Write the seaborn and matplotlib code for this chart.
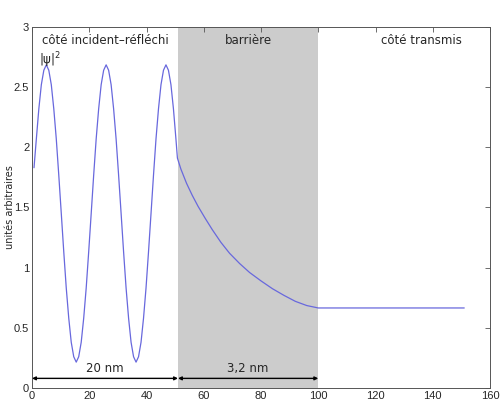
import numpy as np
import pandas as pd
import matplotlib
matplotlib.use("Agg")
import matplotlib.pyplot as plt
import seaborn as sns

# positions (x, unités de la figure) et |psi|^2
x_incident = [0.70, 1.52, 2.39, 3.26, 4.13, 5.00, 5.87, 6.74, 7.61, 8.48, 9.35,
              10.23, 11.10, 11.97, 12.84, 13.71, 14.58, 15.45, 16.32, 17.19, 18.06,
              18.93, 19.80, 20.68, 21.55, 22.42, 23.29, 24.16, 25.03, 25.90, 26.77,
              27.64, 28.51, 29.38, 30.25, 31.13, 32.00, 32.87, 33.74, 34.61, 35.48,
              36.35, 37.22, 38.09, 38.96, 39.83, 40.70, 41.58, 42.45, 43.32, 44.19,
              45.06, 45.93, 46.80, 47.67, 48.54, 49.41, 50.28]
y_incident = [1.83, 2.07, 2.32, 2.52, 2.64, 2.685, 2.64, 2.52, 2.32, 2.07, 1.77,
              1.45, 1.13, 0.83, 0.58, 0.38, 0.26, 0.215, 0.26, 0.38, 0.58,
              0.83, 1.13, 1.45, 1.77, 2.07, 2.32, 2.52, 2.64, 2.685, 2.64,
              2.52, 2.32, 2.07, 1.77, 1.45, 1.13, 0.83, 0.58, 0.38, 0.26,
              0.215, 0.26, 0.38, 0.58, 0.83, 1.13, 1.45, 1.77, 2.07, 2.32,
              2.52, 2.64, 2.685, 2.64, 2.52, 2.32, 2.07]
x_barriere = [50.8, 52.0, 54.0, 56.0, 58.0, 60.5, 63.0, 66.0, 69.0, 72.5, 76.0,
              80.0, 84.0, 88.0, 92.0, 96.0, 100.0]
y_barriere = [1.91, 1.82, 1.70, 1.60, 1.51, 1.41, 1.315, 1.21, 1.12, 1.035, 0.96,
              0.89, 0.825, 0.77, 0.72, 0.685, 0.665]
x_transmis = [100.0, 151.0]
y_transmis = [0.665, 0.665]

barriere = (51, 100)
zones = ["côté incident–réfléchi", "barrière", "côté transmis"]
largeurs = ["20 nm", "3,2 nm"]

df = pd.DataFrame({
    "x": x_incident + x_barriere + x_transmis,
    "psi2": y_incident + y_barriere + y_transmis,
})

sns.set_style("white")
plt.rcParams["font.family"] = ["DejaVu Sans"]
plt.rcParams["xtick.direction"] = "in"
plt.rcParams["ytick.direction"] = "in"

fig = plt.figure(figsize=(5, 4.08), dpi=100)
ax = fig.add_axes([0.064, 0.049, 0.916, 0.885])

ax.axvspan(barriere[0], barriere[1], color="#cccccc", lw=0, zorder=0)
sns.lineplot(data=df, x="x", y="psi2", ax=ax, sort=False, color="#6868dd",
             lw=0.9, zorder=3)

ax.set_xlim(0, 160)
ax.set_ylim(0, 3)
ax.set_xticks(np.arange(0, 161, 20))
ax.set_yticks([0, 0.5, 1, 1.5, 2, 2.5, 3])
ax.set_yticklabels(["0", "0.5", "1", "1.5", "2", "2.5", "3"])
ax.tick_params(top=True, right=True, length=3.5, width=0.6, color="#555555",
               labelsize=8, pad=2)
for lab in ax.get_xticklabels() + ax.get_yticklabels():
    lab.set_family("Liberation Sans")
for s in ax.spines.values():
    s.set_color("#555555")
    s.set_linewidth(0.7)
ax.set_xlabel("")
ax.set_ylabel("unités arbitraires", fontsize=7, va="center")
ax.yaxis.set_label_coords(-0.048, 0.5)

ax.text(25.5, 2.885, zones[0], ha="center", va="center", fontsize=8.5)
ax.text(75.5, 2.885, zones[1], ha="center", va="center", fontsize=8.5)
ax.text(136, 2.885, zones[2], ha="center", va="center", fontsize=8.5)
ax.text(2.6, 2.72, "|ψ|$^2$", ha="left", va="center", fontsize=8.5)

for (a, b), lab in zip([(0, barriere[0]), barriere], largeurs):
    ax.annotate("", xy=(a, 0.08), xytext=(b, 0.08),
                arrowprops=dict(arrowstyle="<|-|>", color="black", lw=1,
                                mutation_scale=5, shrinkA=0, shrinkB=0))
    ax.text((a + b) / 2, 0.16, lab, ha="center", va="center", fontsize=8.5)

fig.savefig("out.png", dpi=100)
